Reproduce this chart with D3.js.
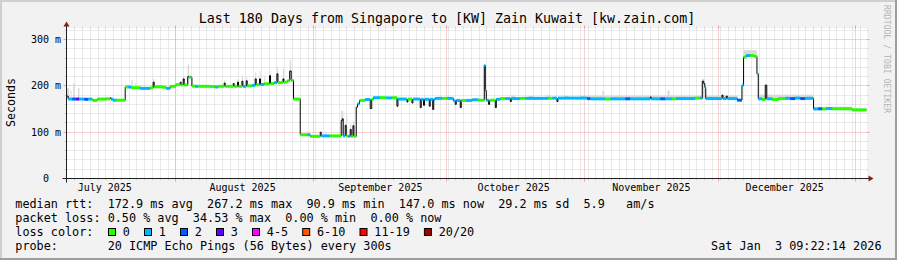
<!DOCTYPE html>
<html><head><meta charset="utf-8">
<script src="https://cdn.jsdelivr.net/npm/d3@7"></script>
<style>
html,body{margin:0;padding:0;background:#f2f2f2;}
svg{display:block;}
text{font-family:"DejaVu Sans Mono",monospace;fill:#000;white-space:pre;}
</style></head><body>
<svg id="chart" width="897" height="260"></svg>
<script>
// ---------------- data ----------------
const titleText = "Last 180 Days from Singapore to [KW] Zain Kuwait [kw.zain.com]";
const yAxisTitle = "Seconds";
const watermark = "RRDTOOL / TOBI OETIKER";
const endTime = Date.UTC(2026, 0, 3, 9, 22, 14);
const spanDays = 180;
const yMaxMs = 323.8;
const yMajorTicks = [0, 100, 200, 300];
const yMajorLabels = ["   0  ", "100 m", "200 m", "300 m"];
const yMinorStepMs = 20;
const monthStarts = ["2025-08-01", "2025-09-01", "2025-10-01", "2025-11-01", "2025-12-01", "2026-01-01"];
const monthLabels = ["July 2025", "August 2025", "September 2025", "October 2025", "November 2025", "December 2025"];
const monthLabelAt = ["2025-07-16", "2025-08-16", "2025-09-16", "2025-10-16", "2025-11-16", "2025-12-16"];
const minorGridHours = 42;

// median rtt: days since start of window, value in ms, loss count (-1 = spike, no loss colour drawn)
const medDay = [0,0.38,1.28,2.18,2.86,3.98,4.88,5.78,6.0,6.91,8.93,9.83,10.06,10.5,11.18,
  13.21,13.88,14.56,16.58,18.83,19.5,19.73,21.53,22.43,23.33,
  24.62,25.58,25.81,26.26,26.48,27.27,27.5,27.95,28.22,28.96,29.63,32.33,33.46,34.13,35.49,35.71,
  37.51,37.74,38.48,38.7,39.47,39.69,40.44,40.66,41.79,42.46,42.69,43.43,43.65,44.49,45.68,45.91,
  46.74,47.34,47.57,48.69,48.92,49.66,50.22,50.56,51.08,
  52.59,54.16,54.84,57.09,57.31,59.34,61.81,62.04,62.26,62.71,62.94,63.39,63.84,64.06,64.45,64.67,
  65.19,65.48,65.93,67.21,68.34,68.68,69.01,70.59,71.94,73.29,74.35,74.57,76.6,76.82,77.72,77.95,
  79.59,79.82,80.33,80.56,81.62,81.84,82.4,82.63,82.97,84.54,85.67,87.02,87.47,87.7,88.6,88.82,
  89.95,91.3,92.65,94.0,94.23,94.45,94.97,95.2,96.48,96.71,97.6,98.73,99.86,100.08,102.11,103.24,
  108.41,109.29,110.35,110.58,117.17,117.85,121.22,122.35,125.72,126.85,131.35,131.57,133.6,134.72,
  136.3,137.2,141.47,142.6,143.05,143.38,143.61,143.83,147.48,147.71,148.45,148.68,150.93,151.98,
  152.34,152.95,153.85,154.75,155.35,155.65,156.55,157.22,157.56,158.8,160.15,161.72,162.85,163.97,
  165.1,166.23,168.09,169.15,170.05,170.95,172.3,176.73,180];
const medMs = [178,171.5,171.5,171.5,171.5,171,171.5,170,168.5,171.5,172,174,171,169,169,
  197.5,197.5,196,194.5,195.5,208,198,197,194.5,199,
  202.5,208,202,215,202,220,219,218,199.5,199,199,198.5,197.5,199,206,199,
  205,199,208,199,210,199,211,200,201,215,202.5,215,203,204.5,222,205,
  207,226,207,215,208,211,232,212,171.5,
  94.5,94.5,91,100,92,92,125,129,92,115,92,91,106,91,114,91,
  154,161,168.5,170.5,151,170.5,174.5,174.5,174,174.5,156,171.5,165,171.5,163,171.5,
  153,171,158,171,156,171,149,171,173,173,173,168,160,168.5,153,168.5,
  168.5,170,169,244,190,169,160,169,153,171,172.5,172.5,166,172.5,173,173,
  173,173.5,166,173.5,172.5,172,171.5,172,172,172,176,172,172,172,
  172,172.5,173.5,173.5,210,205,197,172.5,180,172.5,178,172.5,169,201,
  262,265.5,265.5,263.5,226,172,170.5,201.5,172,170.5,172.5,173,172.5,173.5,
  172.5,173,150,150.5,150,151,150.5,148,148];
const medLoss = [-1,1,2,3,1,2,1,0,0,0,0,-1,1,1,0,
  0,1,0,1,0,-1,0,0,1,0,
  0,-1,0,-1,0,-1,0,1,0,1,0,0,1,0,-1,0,
  -1,0,-1,0,-1,1,-1,0,1,-1,0,-1,1,0,-1,0,
  1,-1,0,-1,0,0,-1,0,0,
  0,1,0,-1,1,0,-1,-1,1,-1,0,1,-1,0,-1,0,
  -1,1,0,1,-1,0,1,0,1,0,-1,1,-1,0,-1,1,
  -1,1,-1,1,-1,1,-1,1,1,0,1,1,-1,1,-1,0,
  1,1,0,1,1,1,-1,0,-1,1,0,1,-1,1,0,1,
  0,1,-1,1,2,1,0,1,2,1,-1,1,2,1,
  0,1,0,1,-1,-1,1,1,-1,1,-1,1,2,1,
  0,1,0,0,1,1,0,-1,1,0,0,1,2,1,
  2,1,1,2,0,1,0,0,0];

// smoke (spread of the individual pings): start day, end day, low ms, high ms
const smokeStart = [0.1,0.9,1.5,2.6,14.6,15.45,16.6,19.5,26.26,27.27,35.5,38.48,39.47,40.44,42.46,43.43,44.5,45.68,47.34,48.69,50.22,
  54.4,58.2,61.81,62.94,63.84,64.45,100,104,108,112,115.6,120.6,135.2,143,152.3,155.65,157.2,168.1,176.7];
const smokeEnd = [0.6,1.1,1.85,2.9,14.9,15.7,16.8,19.73,26.5,27.6,35.7,38.7,39.7,40.66,42.7,43.65,44.7,45.9,47.57,48.92,50.56,
  54.6,58.4,62.26,63.16,64.06,64.67,101,105,109,113,151,121,135.7,143.6,155.3,168,157.6,176.7,180];
const smokeLo = [172,172,172,172,197,197,195,200,203,203,200,200,200,200,203,203,204,205,207,208,212,
  94,93,92,92,92,92,172,173,173,173,172,172,172,175,262,172,172,150,148];
const smokeHi = [195,190,205,196,212,206,203,215,222,246,212,214,222,218,229,232,220,232,241,237,255,
  103,100,146,138,118,124,179,178,180,179,179,189,190,215,277,181,203,155,152];

const lossLabels = ["0", "1", "2", "3", "4-5", "6-10", "11-19", "20/20"];
const lossColors = ["#26ff00", "#00b8ff", "#0059ff", "#5e00ff", "#ff00ff", "#ff5500", "#ff0000", "#a10000"];
const lossBucket = [0, 1, 2, 3, 4, 4, 5, 5, 5, 5, 5, 6, 6, 6, 6, 6, 6, 6, 6, 6, 7];

const statsLines = [
  "median rtt:  172.9 ms avg  267.2 ms max  90.9 ms min  147.0 ms now  29.2 ms sd  5.9   am/s",
  "packet loss: 0.50 % avg  34.53 % max  0.00 % min  0.00 % now"
];
const lossColorTitle = "loss color:";
const probeLine = "probe:       20 ICMP Echo Pings (56 Bytes) every 300s";
const dateStamp = "Sat Jan  3 09:22:14 2026";

// ---------------- drawing ----------------
const svg = d3.select("#chart");
const W = 897, H = 260;
const X0 = 66.5, X1 = 866.5, Y0 = 178.5, Y1 = 28.5;
const startTime = endTime - spanDays * 864e5;
const x = d3.scaleUtc().domain([new Date(startTime), new Date(endTime)]).range([X0, X1]);
const y = d3.scaleLinear().domain([0, yMaxMs]).range([Y0, Y1]);
const dayToDate = d => new Date(startTime + d * 864e5);
const crisp = v => Math.floor(v) + 0.5;

// background & shade frame
svg.append("rect").attr("width", W).attr("height", H).attr("fill", "#f2f2f2");
svg.append("rect").attr("x", 0).attr("y", 0).attr("width", W).attr("height", 2).attr("fill", "#cfcfcf");
svg.append("rect").attr("x", 0).attr("y", 0).attr("width", 2).attr("height", H).attr("fill", "#cfcfcf");
svg.append("rect").attr("x", 0).attr("y", H - 2).attr("width", W).attr("height", 2).attr("fill", "#9e9e9e");
svg.append("rect").attr("x", W - 2).attr("y", 0).attr("width", 2).attr("height", H).attr("fill", "#9e9e9e");

// canvas
svg.append("rect").attr("x", X0 + 0.5).attr("y", Y1).attr("width", X1 - X0).attr("height", Y0 - Y1).attr("fill", "#ffffff");

const grid = svg.append("g").attr("fill", "none");
const minorCol = "#d4d4d4", majorCol = "#eda3a3";

// horizontal minor grid
const yMinor = d3.range(0, yMaxMs, yMinorStepMs).filter(v => v % 100 !== 0);
yMinor.forEach(v => {
  const yy = crisp(y(v));
  grid.append("line").attr("x1", X0).attr("x2", X1).attr("y1", yy).attr("y2", yy)
    .attr("stroke", minorCol).attr("stroke-dasharray", "1,1");
  grid.append("line").attr("x1", X0 - 2).attr("x2", X0).attr("y1", yy).attr("y2", yy).attr("stroke", minorCol);
  grid.append("line").attr("x1", X1).attr("x2", X1 + 2).attr("y1", yy).attr("y2", yy).attr("stroke", minorCol);
});
// vertical minor grid
const anchor = Date.UTC(2025, 7, 1);
const minorTimes = [];
for (let t = anchor; t <= endTime; t += minorGridHours * 36e5) minorTimes.push(t);
for (let t = anchor - minorGridHours * 36e5; t >= startTime; t -= minorGridHours * 36e5) minorTimes.push(t);
minorTimes.forEach(t => {
  const xx = crisp(x(new Date(t)));
  if (xx <= X0 + 0.5) return;
  grid.append("line").attr("x1", xx).attr("x2", xx).attr("y1", Y1).attr("y2", Y0)
    .attr("stroke", minorCol).attr("stroke-dasharray", "1,1");
  grid.append("line").attr("x1", xx).attr("x2", xx).attr("y1", Y0).attr("y2", Y0 + 2).attr("stroke", minorCol);
  grid.append("line").attr("x1", xx).attr("x2", xx).attr("y1", Y1 - 2).attr("y2", Y1).attr("stroke", minorCol);
});
// horizontal major grid
yMajorTicks.forEach(v => {
  const yy = crisp(y(v));
  if (v > 0) grid.append("line").attr("x1", X0).attr("x2", X1).attr("y1", yy).attr("y2", yy)
    .attr("stroke", majorCol).attr("stroke-dasharray", "1,1");
  grid.append("line").attr("x1", X0 - 3).attr("x2", X0).attr("y1", yy).attr("y2", yy).attr("stroke", majorCol);
  grid.append("line").attr("x1", X1).attr("x2", X1 + 3).attr("y1", yy).attr("y2", yy).attr("stroke", majorCol);
});
// vertical major grid (month starts)
monthStarts.forEach(s => {
  const xx = crisp(x(new Date(s + "T00:00:00Z")));
  grid.append("line").attr("x1", xx).attr("x2", xx).attr("y1", Y1).attr("y2", Y0)
    .attr("stroke", majorCol).attr("stroke-dasharray", "1,1");
  grid.append("line").attr("x1", xx).attr("x2", xx).attr("y1", Y0).attr("y2", Y0 + 3).attr("stroke", majorCol);
  grid.append("line").attr("x1", xx).attr("x2", xx).attr("y1", Y1 - 3).attr("y2", Y1).attr("stroke", majorCol);
});

// smoke
const smoke = svg.append("g");
smokeStart.forEach((s, i) => {
  const xa = x(dayToDate(s)), xb = x(dayToDate(smokeEnd[i]));
  smoke.append("rect").attr("x", xa).attr("width", Math.max(1, xb - xa))
    .attr("y", y(smokeHi[i])).attr("height", y(smokeLo[i]) - y(smokeHi[i]))
    .attr("fill", "#d9d9d9");
});

// median black line
const pts = medDay.map((d, i) => [x(dayToDate(d)), y(medMs[i])]);
svg.append("path").attr("d", d3.line().curve(d3.curveStepAfter)(pts))
  .attr("fill", "none").attr("stroke", "#000").attr("stroke-width", 1);

// loss-coloured median
const colored = svg.append("g").attr("stroke-width", 3).attr("fill", "none");
for (let i = 0; i < medDay.length - 1; i++) {
  if (medLoss[i] < 0) continue;
  colored.append("line")
    .attr("x1", pts[i][0]).attr("x2", pts[i + 1][0])
    .attr("y1", pts[i][1]).attr("y2", pts[i][1])
    .attr("stroke", lossColors[lossBucket[medLoss[i]]]);
}

// axes
const axisCol = "#1f1f1f", arrowCol = "#7f1f1f";
svg.append("line").attr("x1", X0 - 4).attr("x2", X1 + 4).attr("y1", Y0).attr("y2", Y0).attr("stroke", axisCol);
svg.append("line").attr("x1", X0).attr("x2", X0).attr("y1", Y0 + 4).attr("y2", Y1 - 4).attr("stroke", axisCol);
svg.append("path").attr("d", `M${X1 + 2},${Y0 - 3}L${X1 + 2},${Y0 + 3}L${X1 + 7},${Y0}Z`).attr("fill", arrowCol);
svg.append("path").attr("d", `M${X0 - 3},${Y1 - 2}L${X0 + 3},${Y1 - 2}L${X0},${Y1 - 7}Z`).attr("fill", arrowCol);

// y labels
yMajorTicks.forEach((v, i) => {
  svg.append("text").attr("x", 61).attr("y", y(v) + 3.5).attr("text-anchor", "end")
    .attr("font-size", "10px").text(yMajorLabels[i]);
});
// x labels
monthLabels.forEach((m, i) => {
  const xx = x(new Date(monthLabelAt[i] + "T00:00:00Z"));
  if (xx > X1) return;
  svg.append("text").attr("x", xx).attr("y", 190.5).attr("text-anchor", "middle")
    .attr("font-size", "10px").text(m);
});

// title
svg.append("text").attr("x", 447).attr("y", 23).attr("text-anchor", "middle")
  .attr("font-size", "13.3px").text(titleText);
// y axis title
svg.append("text").attr("transform", "translate(15,102.5) rotate(-90)").attr("text-anchor", "middle")
  .attr("font-size", "11.6px").text(yAxisTitle);
// watermark
svg.append("text").attr("transform", "translate(884,5) rotate(90)").attr("text-anchor", "start")
  .attr("font-size", "8px").attr("textLength", 108).style("fill", "#b4b4b4").text(watermark);

// legend
const lf = "11.8px", lx = 15.3, adv = 7.1;
const rows = [208, 222, 236, 250];
statsLines.forEach((s, i) => svg.append("text").attr("x", lx).attr("y", rows[i]).attr("font-size", lf).text(s));
svg.append("text").attr("x", lx).attr("y", rows[2]).attr("font-size", lf).text(lossColorTitle);
let bx = 108.5;
lossLabels.forEach((lab, i) => {
  svg.append("rect").attr("x", bx).attr("y", 228.5).attr("width", 7).attr("height", 7)
    .attr("fill", lossColors[i]).attr("stroke", "#000").attr("stroke-width", 1);
  svg.append("text").attr("x", bx + 14.3).attr("y", rows[2]).attr("font-size", lf).text(lab);
  bx = bx + 14.3 + lab.length * adv + 14.6;
});
svg.append("text").attr("x", lx).attr("y", rows[3]).attr("font-size", lf).text(probeLine);
svg.append("text").attr("x", 881.5).attr("y", rows[3]).attr("text-anchor", "end").attr("font-size", lf).text(dateStamp);
</script>
</body></html>
